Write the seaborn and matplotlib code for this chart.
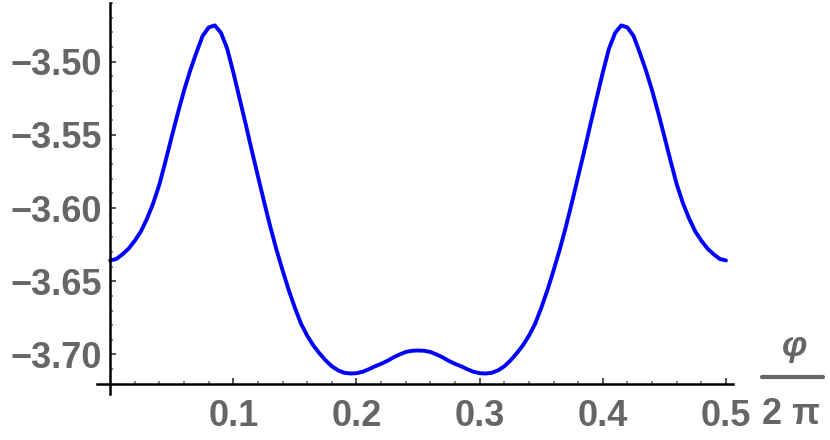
import numpy as np
import pandas as pd
import matplotlib
matplotlib.use("Agg")
import matplotlib.pyplot as plt
import seaborn as sns
from matplotlib.lines import Line2D

phi_2pi = [round(0.005 * i, 3) for i in range(101)]
energy = [
    -3.6358, -3.6348, -3.6316, -3.6277, -3.6223, -3.6159, -3.6071, -3.5966, -3.5838, -3.5678,
    -3.5512, -3.5350, -3.5197, -3.5060, -3.4939, -3.4826, -3.4767, -3.4753, -3.4804, -3.4912,
    -3.5074, -3.5250, -3.5426, -3.5608, -3.5784, -3.5959, -3.6128, -3.6284, -3.6426, -3.6561,
    -3.6682, -3.6791, -3.6872, -3.6939, -3.6993, -3.7041, -3.7081, -3.7108, -3.7125, -3.7130,
    -3.7128, -3.7118, -3.7101, -3.7081, -3.7064, -3.7044, -3.7020, -3.7000, -3.6983, -3.6975,
    -3.6973,
    -3.6975, -3.6983, -3.7000, -3.7020, -3.7044, -3.7064, -3.7081, -3.7101, -3.7118, -3.7128,
    -3.7130, -3.7125, -3.7108, -3.7081, -3.7041, -3.6993, -3.6939, -3.6872, -3.6791, -3.6682,
    -3.6561, -3.6426, -3.6284, -3.6128, -3.5959, -3.5784, -3.5608, -3.5426, -3.5250, -3.5074,
    -3.4912, -3.4804, -3.4753, -3.4767, -3.4826, -3.4939, -3.5060, -3.5197, -3.5350, -3.5512,
    -3.5678, -3.5838, -3.5966, -3.6071, -3.6159, -3.6223, -3.6277, -3.6316, -3.6348, -3.6358,
]

x_ticks = [0.1, 0.2, 0.3, 0.4, 0.5]
y_ticks = [-3.70, -3.65, -3.60, -3.55, -3.50]

df = pd.DataFrame({"x": phi_2pi, "E": energy})

sns.set_style("white")
plt.rcParams["font.family"] = ["Liberation Sans", "DejaVu Sans"]
plt.rcParams["axes.unicode_minus"] = True

fig = plt.figure(figsize=(8.3, 4.4), dpi=100)
ax = fig.add_axes([97 / 830, 1 - 394 / 440, (733 - 97) / 830, (394 - 3) / 440])

sns.lineplot(data=df, x="x", y="E", ax=ax, color="#0000ff", linewidth=2.8,
             estimator=None, sort=False)

ax.set_xlim(-0.0107, 0.5057)
ax.set_ylim(-3.727, -3.4628)
ax.set_xlabel("")
ax.set_ylabel("")

ax.spines["top"].set_visible(False)
ax.spines["right"].set_visible(False)
ax.spines["left"].set_position(("data", 0))
ax.spines["bottom"].set_position(("data", -3.7203))
for s in ("left", "bottom"):
    ax.spines[s].set_color("black")
    ax.spines[s].set_linewidth(1.8)

ax.set_xticks(x_ticks)
ax.set_xticklabels([f"{v:.1f}" for v in x_ticks])
ax.set_xticks([v for v in np.arange(0.02, 0.5, 0.02) if round(v * 50) % 5 != 0], minor=True)
ax.set_yticks(y_ticks)
ax.set_yticklabels([f"{v:.2f}".replace("-", "\u2212") for v in y_ticks])
ax.set_yticks([round(v, 2) for v in np.arange(-3.72, -3.46, 0.01)
               if round(v * 100) % 5 != 0], minor=True)

ax.tick_params(axis="both", which="both", left=True, bottom=True, direction="in")
ax.tick_params(axis="both", which="major", length=4.5, width=1.3,
               color="#444444", labelsize=26, labelcolor="#666666")
ax.tick_params(axis="both", which="minor", length=2.5, width=1.1,
               color="#666666")
ax.tick_params(axis="x", which="major", pad=11)
ax.tick_params(axis="y", which="major", pad=6)
for lab in ax.get_xticklabels() + ax.get_yticklabels():
    lab.set_fontweight("bold")

# axis label phi / 2 pi drawn as a fraction at the right end
fig.text(795 / 830, 1 - 346 / 440, "\u03c6", fontsize=26, fontweight="bold",
         fontstyle="italic", color="#666666", ha="center", va="center")
fig.add_artist(Line2D([762 / 830, 823 / 830], [1 - 377 / 440, 1 - 377 / 440],
                      color="#666666", linewidth=3))
fig.text(791 / 830, 1 - 414 / 440, "2 \u03c0", fontsize=26, fontweight="bold",
         color="#666666", ha="center", va="center")

fig.savefig("out.png", dpi=100)
